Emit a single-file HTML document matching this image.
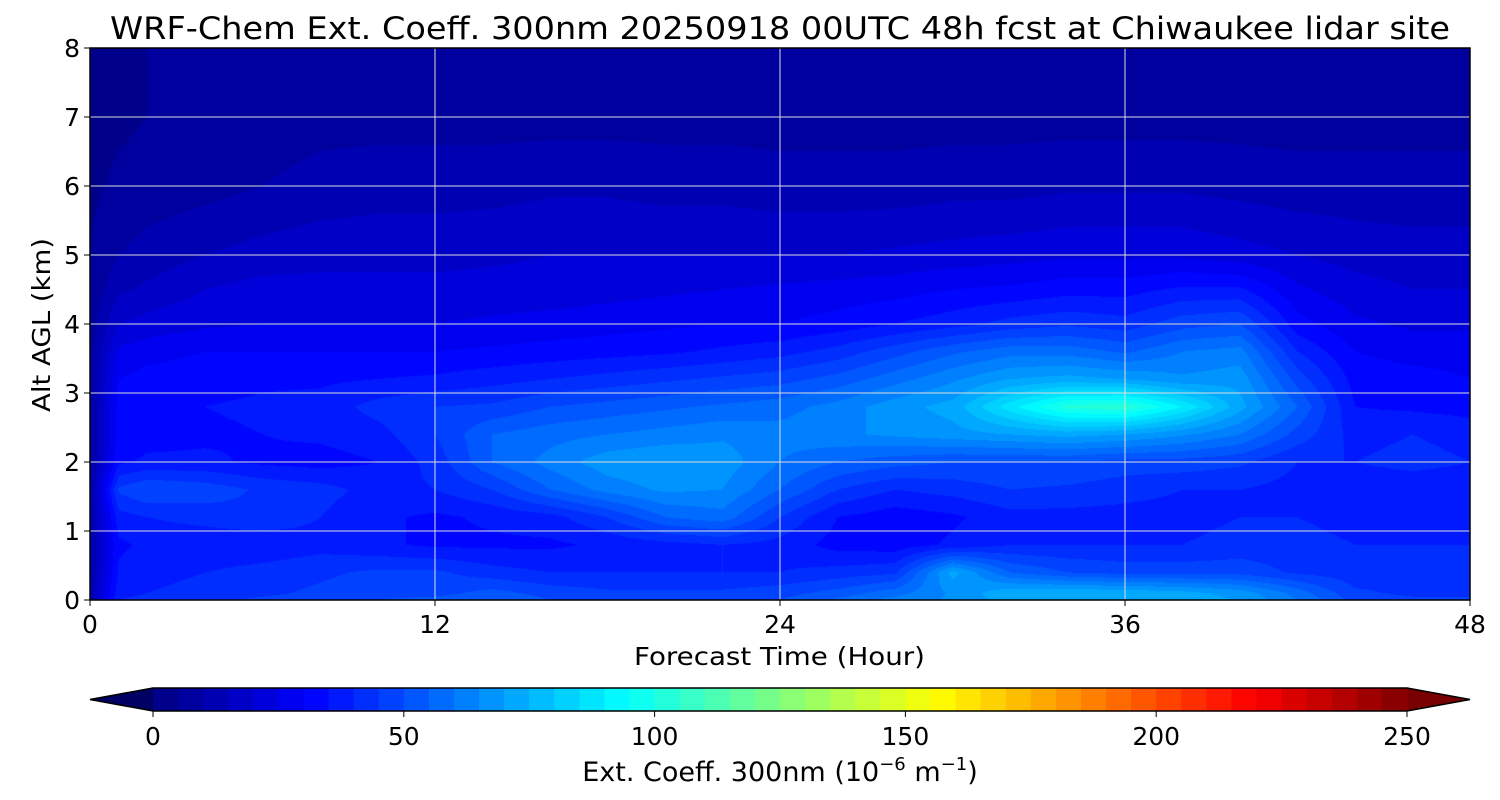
<!DOCTYPE html>
<html><head><meta charset="utf-8">
<style>
html,body{margin:0;padding:0;background:#fff;width:1500px;height:800px;overflow:hidden}
#wrap{position:relative;width:1500px;height:800px}
canvas{position:absolute;left:90px;top:48px}
svg{position:absolute;left:0;top:0}
text{font-family:"DejaVu Sans","Liberation Sans",sans-serif;fill:#000}
</style></head>
<body>
<div id="wrap">
<canvas id="hm" width="1380" height="552"></canvas>
<svg id="svg" width="1500" height="800"></svg>
</div>
<script>
// ---- data ----
const times = [0,1,2,4,6,8,10,12,14,16,18,20,22,24,26,28,30,32,34,36,38,40,42,44,46,48];
const heights = [0,0.1,0.4,0.8,1.2,1.6,2.0,2.4,2.8,3.2,3.6,4.0,4.5,5,6,7,8];
const extRows = [
[10,40,42,44,46,48,50,52,55,50,48,48,48,50,56,62,66,72,74,74,72,70,60,48,46,46],
[12,38,40,42,44,46,48,48,52,48,46,46,46,48,52,58,66,74,75,74,72,68,58,46,44,44],
[10,36,38,40,42,44,46,46,42,40,40,40,40,40,42,44,72,55,50,48,48,48,44,42,42,42],
[10,34,36,36,36,38,36,34,34,34,36,38,40,38,33,32,36,40,40,40,40,42,42,40,40,40],
[10,38,40,42,44,40,36,34,36,38,45,55,58,45,35,32,34,38,38,38,38,40,40,38,38,38],
[10,46,50,48,44,42,38,40,45,55,62,66,65,55,45,40,42,45,44,42,40,40,38,36,36,36],
[8,34,36,36,34,33,35,42,55,62,68,70,68,60,55,52,50,50,50,48,48,46,40,40,42,40],
[8,32,33,34,35,36,38,45,55,58,60,62,64,62,64,66,68,70,72,70,66,60,48,38,40,38],
[8,32,34,35,36,37,42,45,46,50,52,54,56,58,62,68,72,88,102,104,90,72,55,35,34,33],
[8,30,32,33,34,34,35,36,38,40,42,44,46,48,52,58,64,70,72,70,66,68,48,33,32,30],
[8,26,28,30,30,30,30,30,31,32,33,34,36,38,42,48,54,58,58,54,60,62,40,30,28,28],
[7,20,22,24,25,25,25,25,26,27,28,29,30,30,32,35,38,42,44,42,48,50,32,26,24,24],
[6,14,16,20,22,22,22,22,22,22,23,24,25,26,27,28,30,31,33,33,36,36,26,22,20,20],
[5,10,12,15,17,18,18,18,19,20,20,20,20,20,20,21,22,23,24,24,24,22,20,18,17,17],
[4,6,7,8,10,12,13,13,13,14,14,13,13,12,12,12,13,13,14,14,14,13,12,12,12,12],
[3,4,5,6,7,8,8,8,8,8,8,8,8,8,8,8,8,8,8,8,8,8,8,8,8,8],
[3,4,5,6,6,6,6,6,6,6,6,6,6,6,6,6,6,6,6,6,6,6,6,6,6,6]
];
const xTicks = [0,12,24,36,48];
const yTicks = [0,1,2,3,4,5,6,7,8];
const cbTicks = [0,50,100,150,200,250];
const cbLevelStep = 5;

// ---- scales ----
const X0=90,X1=1470,Y0=600,Y1=48;
const xs = t => X0 + (t-0)/(48-0)*(X1-X0);
const ys = h => Y0 - h/8*(Y0-Y1);
const CB0=153,CB1=1407;
const cs = v => CB0 + v/250*(CB1-CB0);

function jet(f){
  f=Math.max(0,Math.min(1,f));
  const c=(x)=>Math.max(0,Math.min(1,x));
  const r=c(Math.min(4*f-1.5,-4*f+4.5));
  const g=c(Math.min(4*f-0.5,-4*f+3.5));
  const b=c(Math.min(4*f+0.5,-4*f+2.5));
  return [Math.round(r*255),Math.round(g*255),Math.round(b*255)];
}
function levelColor(v){
  const q=Math.floor(Math.max(0,Math.min(249.99,v))/cbLevelStep)*cbLevelStep+cbLevelStep/2;
  return jet(q/250);
}
function idx(arr,v){
  for(let i=0;i<arr.length-1;i++) if(v<=arr[i+1]) return i;
  return arr.length-2;
}
// ---- heatmap ----
const cv=document.getElementById('hm'),ctx=cv.getContext('2d');
const W=cv.width,H=cv.height,img=ctx.createImageData(W,H);
for(let py=0;py<H;py++){
  const h=(Y0-(Y1+py+0.5))/(Y0-Y1)*8;
  const j=idx(heights,h),fy=(h-heights[j])/(heights[j+1]-heights[j]);
  for(let px=0;px<W;px++){
    const t=(px+0.5)/W*48;
    const i=idx(times,t),fx=(t-times[i])/(times[i+1]-times[i]);
    const v=(extRows[j][i]*(1-fx)+extRows[j][i+1]*fx)*(1-fy)+(extRows[j+1][i]*(1-fx)+extRows[j+1][i+1]*fx)*fy;
    const col=levelColor(v),k=(py*W+px)*4;
    img.data[k]=col[0];img.data[k+1]=col[1];img.data[k+2]=col[2];img.data[k+3]=255;
  }
}
ctx.putImageData(img,0,0);

// ---- svg ----
const NS='http://www.w3.org/2000/svg',svg=document.getElementById('svg');
function mk(tag,attrs,txt){const e=document.createElementNS(NS,tag);for(const k in attrs)e.setAttribute(k,attrs[k]);if(txt!==undefined)e.textContent=txt;svg.appendChild(e);return e;}

xTicks.forEach(t=>{
  if(t>0&&t<48){const g=mk('line',{x1:xs(t),x2:xs(t),y1:Y1,y2:Y0,stroke:'#ddd','stroke-width':1});
  
  }
  const tk=mk('line',{x1:xs(t),x2:xs(t),y1:Y0,y2:Y0+6,stroke:'#000','stroke-width':1});
  
  
  const l=mk('text',{x:xs(t),y:633,'font-size':25,'text-anchor':'middle'},String(t));
  
  
});
yTicks.forEach(h=>{
  if(h>0&&h<8){const g=mk('line',{x1:X0,x2:X1,y1:ys(h),y2:ys(h),stroke:'#ddd','stroke-width':1});
  
  }
  const tk=mk('line',{x1:X0-6,x2:X0,y1:ys(h),y2:ys(h),stroke:'#000','stroke-width':1});
  
  
  const l=mk('text',{x:80,y:ys(h)+9,'font-size':25,'text-anchor':'end'},String(h));
  
  
});
const fr=mk('rect',{x:X0,y:Y1,width:X1-X0,height:Y0-Y1,fill:'none',stroke:'#000','stroke-width':1.5});


const ti=mk('text',{x:110,y:39,'font-size':31,textLength:1340,lengthAdjust:'spacingAndGlyphs','xml:space':'preserve'},'WRF-Chem Ext. Coeff. 300nm  20250918 00UTC 48h fcst at Chiwaukee lidar site');


const xt=mk('text',{x:634,y:665,'font-size':25,textLength:291,lengthAdjust:'spacingAndGlyphs'},'Forecast Time (Hour)');


const yt=mk('text',{x:0,y:0,'font-size':25,textLength:174,lengthAdjust:'spacingAndGlyphs',transform:'translate(50,412) rotate(-90)'},'Alt AGL (km)');



// colorbar
const CBY=688,CBH=23;
const lt=mk('polygon',{points:`${CB0},${CBY} 90,${CBY+CBH/2} ${CB0},${CBY+CBH}`,fill:'rgb(0,0,100)'});


const rt=mk('polygon',{points:`${CB1},${CBY} 1470,${CBY+CBH/2} ${CB1},${CBY+CBH}`,fill:'rgb(120,0,0)'});


for(let v=0;v<250;v+=cbLevelStep){
  const c=levelColor(v+0.01);
  const r=mk('rect',{x:cs(v),y:CBY,width:cs(v+cbLevelStep)-cs(v)+0.6,height:CBH,fill:`rgb(${c[0]},${c[1]},${c[2]})`});
  
  
}
const ol=mk('polygon',{points:`90,${CBY+CBH/2} ${CB0},${CBY} ${CB1},${CBY} 1470,${CBY+CBH/2} ${CB1},${CBY+CBH} ${CB0},${CBY+CBH}`,fill:'none',stroke:'#000','stroke-width':1.5});


cbTicks.forEach(v=>{
  const tk=mk('line',{x1:cs(v),x2:cs(v),y1:CBY+CBH,y2:CBY+CBH+6,stroke:'#000'});
  
  
  const l=mk('text',{x:cs(v),y:745,'font-size':25,'text-anchor':'middle'},String(v));
  
  
});
const cl=mk('text',{x:780,y:781,'font-size':27,'text-anchor':'middle','xml:space':'preserve'});


cl.innerHTML='Ext. Coeff. 300nm  (10<tspan dy="-11" font-size="18">−6</tspan><tspan dy="11"> m</tspan><tspan dy="-11" font-size="18">−1</tspan><tspan dy="11">)</tspan>';
</script>
</body></html>
